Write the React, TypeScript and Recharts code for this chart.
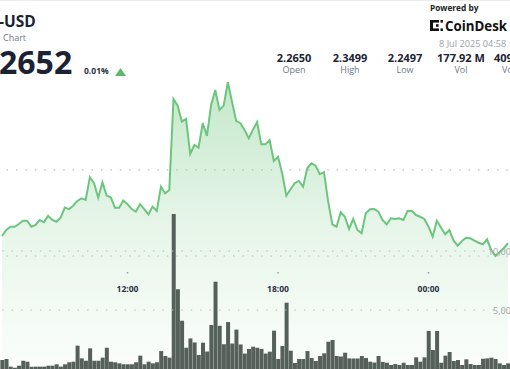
import React from "react";
import {
  ComposedChart,
  Area,
  Bar,
  XAxis,
  YAxis,
  ReferenceLine,
} from "recharts";

// 10-minute candles, first visible one at 07:00
const START_MINUTES = 7 * 60;
const STEP_MINUTES = 10;

const closePrice = [
  2.2616, 2.2651, 2.267, 2.267, 2.2686, 2.2705, 2.2705, 2.267, 2.268, 2.2709,
  2.2696, 2.2733, 2.2709, 2.2699, 2.2723, 2.2781, 2.2772, 2.2792, 2.282, 2.2835,
  2.2826, 2.2958, 2.2923, 2.2839, 2.2928, 2.2851, 2.2841, 2.2781, 2.2781, 2.2822,
  2.2801, 2.2773, 2.2758, 2.2801, 2.2773, 2.2742, 2.2787, 2.2762, 2.2903, 2.2865,
  2.2884, 2.3413, 2.3374, 2.3281, 2.3297, 2.3093, 2.3145, 2.313, 2.3272, 2.3198,
  2.3378, 2.3465, 2.3349, 2.3374, 2.351, 2.3397, 2.3285, 2.3272, 2.3233, 2.3184,
  2.3233, 2.3279, 2.3149, 2.3149, 2.3174, 2.3052, 2.3077, 2.2981, 2.2851, 2.2888,
  2.2923, 2.2936, 2.2903, 2.301, 2.3039, 2.3025, 2.2975, 2.2987, 2.2816, 2.2684,
  2.267, 2.2754, 2.2728, 2.2657, 2.2715, 2.2651, 2.2632, 2.2748, 2.2772, 2.2773,
  2.2758, 2.2709, 2.2684, 2.2719, 2.2715, 2.2719, 2.2709, 2.2762, 2.2762, 2.2738,
  2.2728, 2.2715, 2.267, 2.2612, 2.2705, 2.2665, 2.2626, 2.2651, 2.2589, 2.256,
  2.2587, 2.2606, 2.2603, 2.2589, 2.2577, 2.2568, 2.2597, 2.2535, 2.25, 2.2522,
  2.2545, 2.2574,
];

const volume = [
  760, 850, 200, 110, 280, 700, 620, 200, 200, 200,
  200, 280, 280, 400, 200, 400, 570, 620, 1980, 900,
  700, 1750, 700, 700, 960, 1800, 620, 570, 480, 400,
  400, 400, 570, 1130, 400, 620, 480, 570, 1520, 1100,
  960, 13140, 6760, 4090, 1800, 2590, 2250, 1190, 2230, 1480,
  3730, 7400, 3660, 2100, 3980, 2160, 3340, 2080, 1310, 1700,
  1890, 1800, 1700, 1310, 1470, 3250, 850, 1950, 5620, 1550,
  510, 850, 850, 1520, 930, 680, 1100, 1330, 2310, 2460,
  1100, 1060, 1380, 900, 890, 890, 1100, 930, 620, 550,
  1100, 600, 530, 340, 420, 340, 530, 340, 340, 990,
  620, 990, 3220, 1610, 3220, 530, 1130, 1440, 680, 760,
  340, 820, 420, 340, 340, 870, 900, 960, 850, 480,
  340, 480,
];

const timeTicks = ["12:00", "18:00", "00:00"];
const priceGrid = [2.25, 2.3];
const volumeTicks = [5000, 10000];

const pad = (n: number) => String(n).padStart(2, "0");
const times = closePrice.map((_, i) => {
  const m = START_MINUTES + i * STEP_MINUTES;
  return `${pad(Math.floor(m / 60) % 24)}:${pad(m % 60)}`;
});

const data = times.map((time, i) => ({
  time,
  price: closePrice[i],
  volume: volume[i],
}));

const stats = [
  { value: "2.2650", label: "Open", x: 294 },
  { value: "2.3499", label: "High", x: 350 },
  { value: "2.2497", label: "Low", x: 405 },
  { value: "177.92 M", label: "Vol", x: 461 },
];

const FONT = "'Open Sans', 'Noto Sans', sans-serif";
const W = 510;
const H = 369;

function TimeTick(props: any) {
  const { x, payload } = props;
  return (
    <g>
      <rect x={x - 0.75} y={272} width={1.5} height={1.5} fill="#9aa0a6" />
      <text
        x={x}
        y={292}
        textAnchor="middle"
        fontFamily={FONT}
        fontSize={8.5}
        fontWeight={700}
        fill="#2b3142"
      >
        {payload.value}
      </text>
    </g>
  );
}

function VolumeTick(props: any) {
  const { y, payload } = props;
  return (
    <text
      x={516}
      y={y + 3.5}
      textAnchor="end"
      fontFamily={FONT}
      fontSize={9}
      fill="#a0a4a8"
    >
      {payload.value.toLocaleString("en-US")}
    </text>
  );
}

function Header() {
  return (
    <svg
      width={W}
      height={H}
      style={{ position: "absolute", left: 0, top: 0, pointerEvents: "none" }}
    >
      <line x1={0} y1={0.5} x2={W} y2={0.5} stroke="#ececec" />
      <text x={-1} y={27} fontFamily={FONT} fontSize={15.5} fontWeight={700} fill="#1b2233">
        -USD
      </text>
      <text x={3} y={40.5} fontFamily={FONT} fontSize={9} fill="#6f7785">
        Chart
      </text>
      <text x={-1} y={74} fontFamily={FONT} fontSize={32} fontWeight={700} fill="#1b2233">
        2652
      </text>
      <text x={84} y={74} fontFamily={FONT} fontSize={8.5} fontWeight={700} fill="#2b3142">
        0.01%
      </text>
      <path d="M115 76 L120.5 68 L126 76 Z" fill="#5cb96c" />

      {stats.map((s) => (
        <g key={s.label}>
          <text x={s.x} y={61.5} textAnchor="middle" fontFamily={FONT} fontSize={11} fontWeight={700} fill="#1b2233">
            {s.value}
          </text>
          <text x={s.x} y={73} textAnchor="middle" fontFamily={FONT} fontSize={9} fill="#6f7785">
            {s.label}
          </text>
        </g>
      ))}
      <text x={494} y={61.5} fontFamily={FONT} fontSize={11} fontWeight={700} fill="#1b2233">
        409
      </text>
      <text x={502} y={73} fontFamily={FONT} fontSize={9} fill="#6f7785">
        Vo
      </text>

      <text x={430} y={11} fontFamily={FONT} fontSize={8.3} fontWeight={700} fill="#222">
        Powered by
      </text>
      <g fill="#111">
        <rect x={430} y={20} width={3} height={11} />
        <rect x={430} y={20} width={9} height={2.6} />
        <rect x={430} y={28.4} width={9} height={2.6} />
        <rect x={436} y={24.2} width={2.6} height={2.6} />
        <rect x={440.5} y={20} width={2.4} height={2.6} />
        <rect x={440.5} y={28.4} width={2.4} height={2.6} />
      </g>
      <text x={445} y={31} fontFamily={FONT} fontSize={13.3} fontWeight={700} fill="#111">
        CoinDesk Data
      </text>
      <text x={439} y={47} fontFamily={FONT} fontSize={9.2} fill="#9aa0a6">
        8 Jul 2025 04:58
      </text>
    </svg>
  );
}

export default function App() {
  return (
    <div
      style={{
        position: "fixed",
        left: 0,
        top: 0,
        width: W,
        height: H,
        overflow: "hidden",
        background: "#fff",
      }}
    >
      <ComposedChart
        width={W}
        height={H}
        data={data}
        margin={{ top: 0, right: 0, bottom: 0, left: 0 }}
        barCategoryGap="8%"
      >
        <defs>
          <linearGradient id="priceFill" x1="0" y1="0" x2="0" y2="1">
            <stop offset="0%" stopColor="#5bbf6c" stopOpacity={0.6} />
            <stop offset="50%" stopColor="#5bbf6c" stopOpacity={0.25} />
            <stop offset="100%" stopColor="#5bbf6c" stopOpacity={0.04} />
          </linearGradient>
        </defs>
        <XAxis
          dataKey="time"
          orientation="top"
          mirror
          ticks={timeTicks}
          interval={0}
          axisLine={false}
          tickLine={false}
          tick={<TimeTick />}
        />
        <YAxis
          yAxisId="price"
          hide
          domain={[2.1843, 2.3988]}
          allowDataOverflow
        />
        <YAxis
          yAxisId="vol"
          orientation="right"
          mirror
          domain={[0, 31273]}
          ticks={volumeTicks}
          axisLine={false}
          tickLine={false}
          tick={<VolumeTick />}
          allowDataOverflow
        />
        <Area
          yAxisId="price"
          type="linear"
          dataKey="price"
          stroke="#6cc57d"
          strokeWidth={2}
          fill="url(#priceFill)"
          dot={false}
          activeDot={false}
          isAnimationActive={false}
        />
        <Bar
          yAxisId="vol"
          dataKey="volume"
          fill="#56605a"
          isAnimationActive={false}
        />
        {priceGrid.map((p) => (
          <ReferenceLine
            key={`p${p}`}
            yAxisId="price"
            y={p}
            stroke="#b8b8b8"
            strokeWidth={1.2}
            strokeDasharray="1.4 8.03"
            strokeDashoffset={2.8}
          />
        ))}
        {volumeTicks.map((v) => (
          <ReferenceLine
            key={`v${v}`}
            yAxisId="vol"
            y={v}
            stroke="#b8b8b8"
            strokeWidth={1.2}
            strokeDasharray="1.4 8.03"
            strokeDashoffset={2.8}
          />
        ))}
      </ComposedChart>
      <Header />
    </div>
  );
}
